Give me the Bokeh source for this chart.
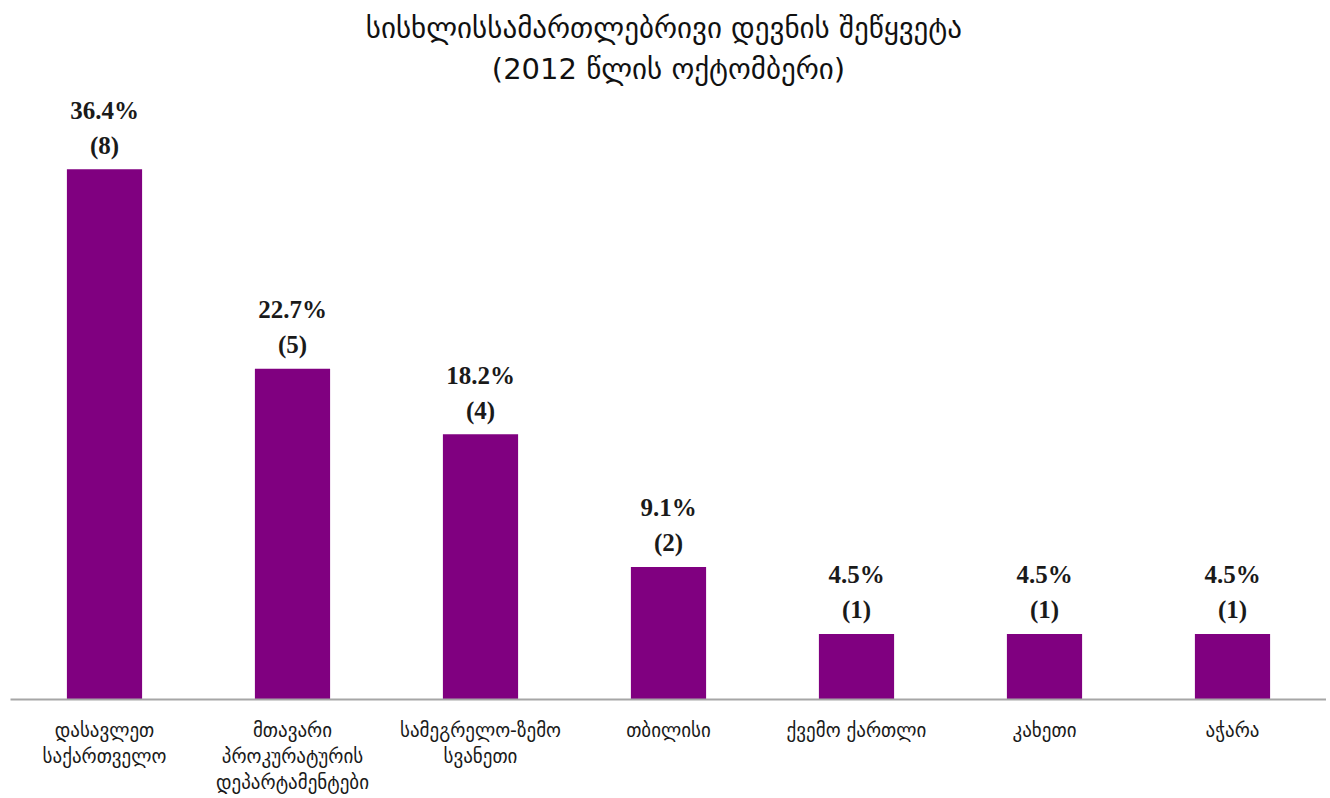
from bokeh.plotting import figure
from bokeh.models import ColumnDataSource, Range1d, Title
from bokeh.core.properties import value
from bokeh.embed import file_html
from bokeh.resources import INLINE

categories = ["დასავლეთ\nსაქართველო", "მთავარი\nპროკურატურის\nდეპარტამენტები",
              "სამეგრელო-ზემო\nსვანეთი", "თბილისი", "ქვემო ქართლი", "კახეთი", "აჭარა"]
percents = [36.4, 22.7, 18.2, 9.1, 4.5, 4.5, 4.5]
counts = [8, 5, 4, 2, 1, 1, 1]

src = ColumnDataSource(dict(
    x=categories, top=percents,
    pct=["%.1f%%" % v for v in percents],
    cnt=["(%d)" % c for c in counts],
))

p = figure(x_range=categories, y_range=Range1d(0, 41.8), width=1326, height=796,
           output_backend="svg", toolbar_location=None, y_axis_location=None,
           min_border_left=10, min_border_right=0, min_border_top=90, min_border_bottom=96)
p.outline_line_color = None
p.xgrid.visible = False
p.ygrid.visible = False
p.x_range.range_padding = 0

p.vbar(x="x", top="top", width=0.4, source=src, fill_color="#800080", line_color=None)

p.text(x="x", y="top", text="cnt", source=src, y_offset=-24, text_align="center",
       text_baseline="middle", text_font=value("Liberation Serif"), text_font_size="25px",
       text_font_style="bold", text_color="#1a1a1a")
p.text(x="x", y="top", text="pct", source=src, y_offset=-59, text_align="center",
       text_baseline="middle", text_font=value("Liberation Serif"), text_font_size="25px",
       text_font_style="bold", text_color="#1a1a1a")

ax = p.xaxis[0]
ax.major_tick_line_color = None
ax.minor_tick_line_color = None
ax.axis_line_color = "#a6a6a6"
ax.axis_line_width = 2
ax.major_label_text_font = "DejaVu Sans"
ax.major_label_text_font_size = "19px"
ax.major_label_text_color = "#1a1a1a"
ax.major_label_standoff = 13

p.add_layout(Title(text="(2012 წლის ოქტომბერი)", align="center", text_font="DejaVu Sans",
                   text_font_size="29px", text_font_style="normal", text_color="#111111",
                   standoff=10), "above")
p.add_layout(Title(text="სისხლისსამართლებრივი  დევნის შეწყვეტა", align="center",
                   text_font="DejaVu Sans", text_font_size="29px", text_font_style="normal",
                   text_color="#111111", standoff=0), "above")

open("out.html", "w").write(file_html(p, INLINE))
